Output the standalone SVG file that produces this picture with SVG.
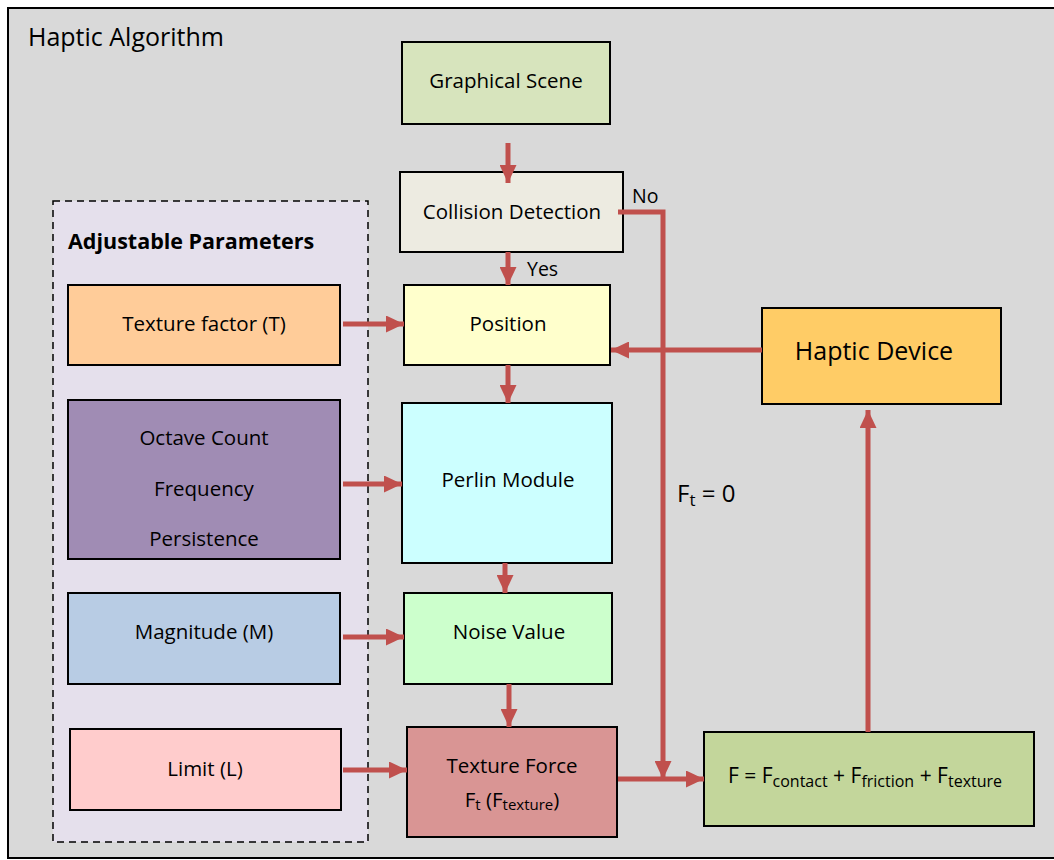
<svg xmlns="http://www.w3.org/2000/svg" width="1054" height="860" viewBox="0 0 1054 860">
<style>
text{font-family:"Open Sans","Noto Sans","Liberation Sans",sans-serif;fill:#000;}
.box{stroke:#000;stroke-width:2;}
.t{font-size:20.5px;text-anchor:middle;}
.c{fill:none;stroke:#c0504d;stroke-width:5;}
</style>
<defs>
<marker id="ah" markerUnits="userSpaceOnUse" markerWidth="18" markerHeight="17" refX="18" refY="8.5" orient="auto">
<path d="M0,0 L18,8.5 L0,17 z" fill="#c0504d"/>
</marker>
</defs>
<g id="frame">
<rect x="8" y="8" width="1050" height="850" fill="#d9d9d9" stroke="#000" stroke-width="2"/>
<text x="28" y="46" font-size="25">Haptic Algorithm</text>
</g>
<g id="params">
<rect x="53" y="201" width="315" height="641" fill="#e5e0ec" stroke="#000" stroke-width="1.5" stroke-dasharray="7,5"/>
<text x="68" y="249" font-size="21.5" font-weight="bold">Adjustable Parameters</text>
</g>
<g id="graphical-scene"><rect class="box" x="402" y="42" width="208" height="82" fill="#d7e4bd"/><text class="t" x="506" y="88">Graphical Scene</text></g>
<g id="collision"><rect class="box" x="400" y="172" width="223" height="80" fill="#edebe1"/><text class="t" x="512" y="219">Collision Detection</text></g>
<g id="position"><rect class="box" x="404" y="285" width="206" height="80" fill="#ffffcc"/><text class="t" x="508" y="331">Position</text></g>
<g id="perlin"><rect class="box" x="402" y="403" width="210" height="160" fill="#ccffff"/><text class="t" x="508" y="487">Perlin Module</text></g>
<g id="noise"><rect class="box" x="404" y="593" width="208" height="91" fill="#ccffcc"/><text class="t" x="509" y="639">Noise Value</text></g>
<g id="texture-force"><rect class="box" x="407" y="727" width="210" height="110" fill="#d99594"/><text class="t" x="512" y="773">Texture Force</text><text class="t" x="512" y="807">F<tspan font-size="15" dy="3">t</tspan><tspan dy="-3"> (F</tspan><tspan font-size="15" dy="3">texture</tspan><tspan dy="-3">)</tspan></text></g>
<g id="force-sum"><rect class="box" x="704" y="732" width="330" height="94" fill="#c3d69b"/><text x="865" y="783" font-size="21" text-anchor="middle">F = F<tspan font-size="16" dy="4">contact</tspan><tspan dy="-4"> + F</tspan><tspan font-size="16" dy="4">friction</tspan><tspan dy="-4"> + F</tspan><tspan font-size="16" dy="4">texture</tspan></text></g>
<g id="haptic-device"><rect class="box" x="762" y="308" width="239" height="96" fill="#ffcc66"/><text x="874" y="360" font-size="25" text-anchor="middle">Haptic Device</text></g>
<g id="texture-factor"><rect class="box" x="68" y="285" width="272" height="80" fill="#ffcc99"/><text class="t" x="204" y="331">Texture factor (T)</text></g>
<g id="octave"><rect class="box" x="68" y="400" width="272" height="159" fill="#a08cb4"/><text class="t" x="204" y="445">Octave Count</text><text class="t" x="204" y="496">Frequency</text><text class="t" x="204" y="546">Persistence</text></g>
<g id="magnitude"><rect class="box" x="68" y="593" width="272" height="91" fill="#b8cce4"/><text class="t" x="204" y="639">Magnitude (M)</text></g>
<g id="limit"><rect class="box" x="70" y="729" width="271" height="81" fill="#ffcccc"/><text class="t" x="205" y="776">Limit (L)</text></g>
<g id="connectors">
<path class="c" d="M508,143 V183" marker-end="url(#ah)"/>
<path class="c" d="M508,252 V285" marker-end="url(#ah)"/>
<path class="c" d="M618,212 H663 V779" marker-end="url(#ah)"/>
<path class="c" d="M343,324 H404" marker-end="url(#ah)"/>
<path class="c" d="M762,350 H611" marker-end="url(#ah)"/>
<path class="c" d="M508,365 V403" marker-end="url(#ah)"/>
<path class="c" d="M343,484 H402" marker-end="url(#ah)"/>
<path class="c" d="M505,563 V593" marker-end="url(#ah)"/>
<path class="c" d="M343,637 H404" marker-end="url(#ah)"/>
<path class="c" d="M509,684 V727" marker-end="url(#ah)"/>
<path class="c" d="M343,770 H407" marker-end="url(#ah)"/>
<path class="c" d="M618,779 H704" marker-end="url(#ah)"/>
<path class="c" d="M868,732 V410" marker-end="url(#ah)"/>
<text x="632" y="203" font-size="19.5">No</text>
<text x="527" y="276" font-size="19.5">Yes</text>
<text x="677" y="502" font-size="24">F<tspan font-size="17" dy="4">t</tspan><tspan dy="-4"> = 0</tspan></text>
</g>
</svg>
